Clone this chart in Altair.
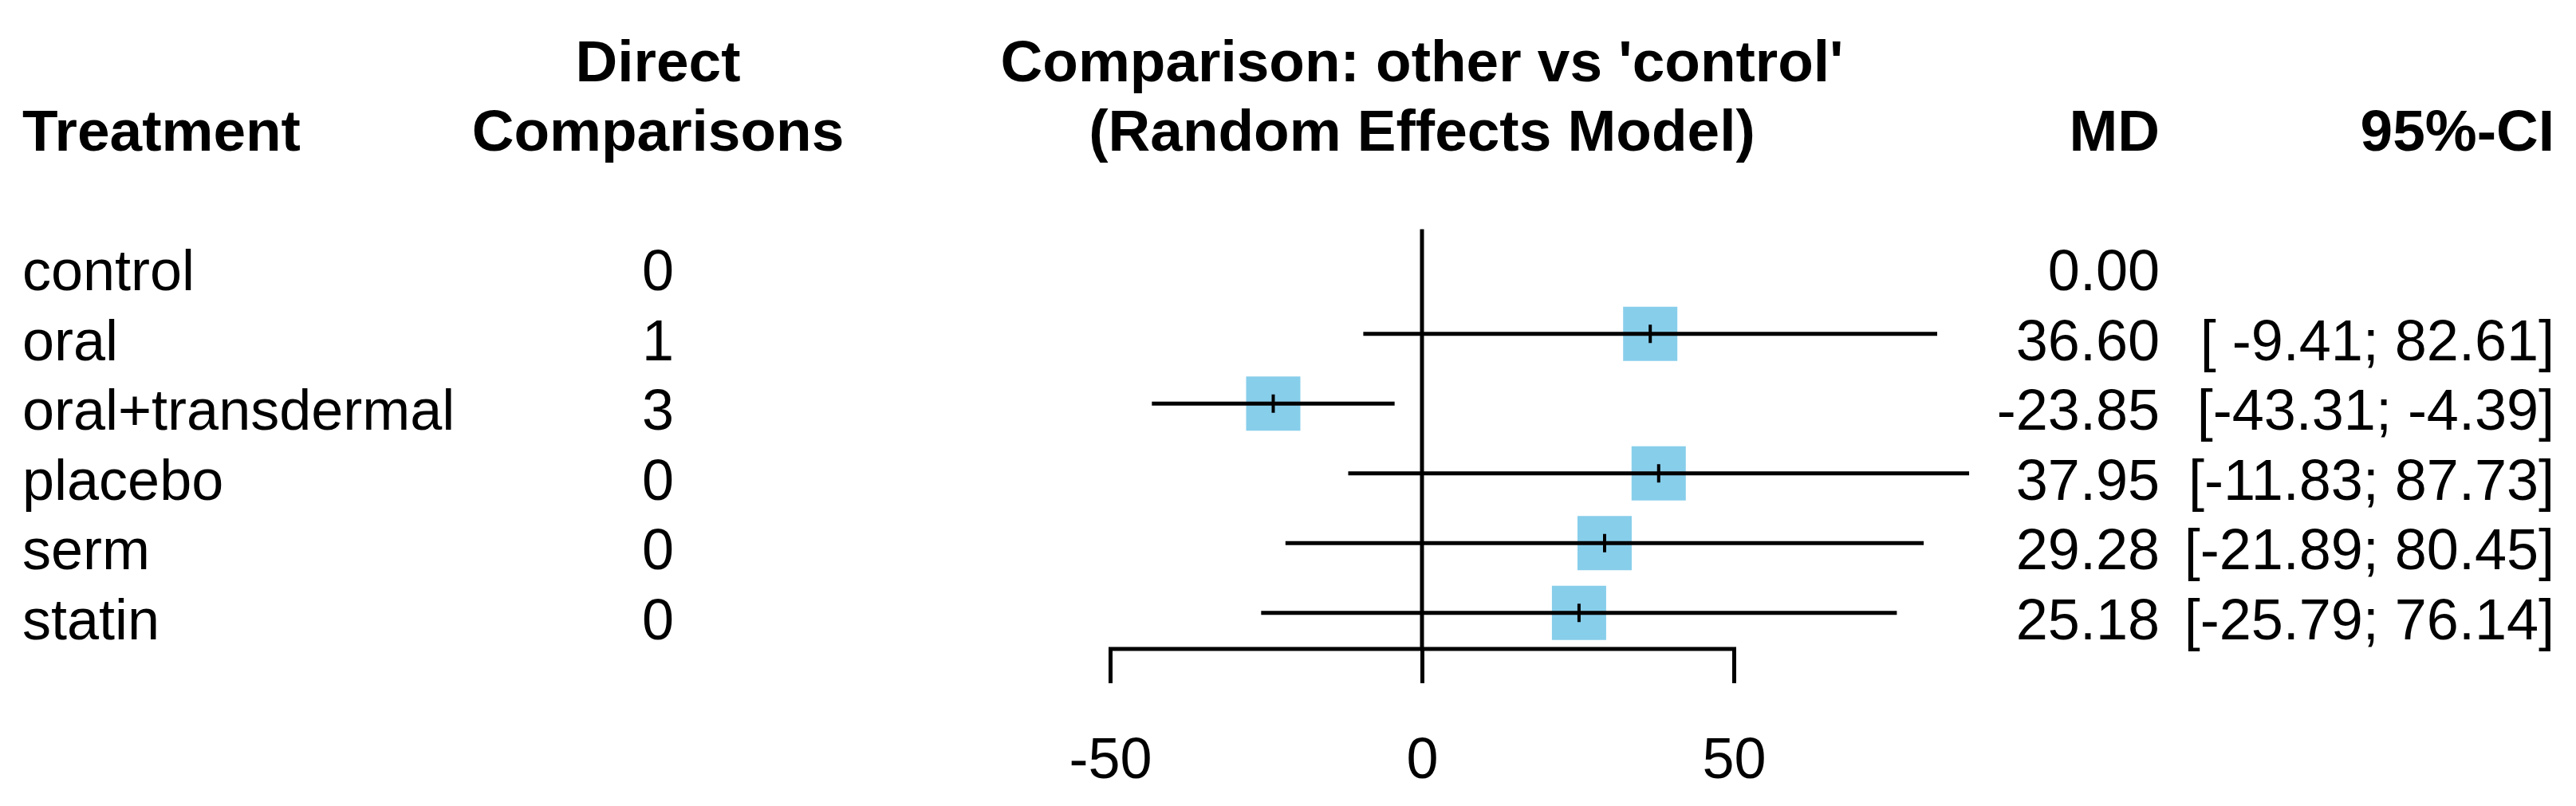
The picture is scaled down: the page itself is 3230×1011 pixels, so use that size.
import altair as alt
import pandas as pd

# ---- data ----
treatments = ["control", "oral", "oral+transdermal", "placebo", "serm", "statin"]
direct_comparisons = [0, 1, 3, 0, 0, 0]
md = [0.00, 36.60, -23.85, 37.95, 29.28, 25.18]
ci_lower = [None, -9.41, -43.31, -11.83, -21.89, -25.79]
ci_upper = [None, 82.61, -4.39, 87.73, 80.45, 76.14]

header_line1 = ["", "Direct", "Comparison: other vs 'control'", "", ""]
header_line2 = ["Treatment", "Comparisons", "(Random Effects Model)", "MD", "95%-CI"]
header_cols = ["trt", "dc", "cmp", "md", "ci"]
x_ticks = [-50, 0, 50]
reference_value = 0

# ---- tables ----
def ci_text(lo, hi):
    if lo is None or hi is None:
        return ""
    return f"[{lo:6.2f}; {hi:5.2f}]"

body = pd.DataFrame({
    "row": list(range(len(treatments))),
    "treatment": treatments,
    "dc": [str(v) for v in direct_comparisons],
    "md": md,
    "lower": ci_lower,
    "upper": ci_upper,
    "md_txt": [f"{v:.2f}" for v in md],
    "ci_txt": [ci_text(a, b) for a, b in zip(ci_lower, ci_upper)],
})

hdr_rows = []
for c, t1, t2 in zip(header_cols, header_line1, header_line2):
    if t1:
        hdr_rows.append({"col": c, "row": -3, "text": t1, "x0": reference_value})
    if t2:
        hdr_rows.append({"col": c, "row": -2, "text": t2, "x0": reference_value})
header = pd.DataFrame(hdr_rows)

zero_df = pd.DataFrame({"x0": [reference_value], "y0": [-0.5], "y1": [len(treatments) - 0.5]})

# ---- scales / encodings ----
FONT = "Liberation Sans"
FS = 72
FS_H = 73
LW = 5
xscale = alt.Scale(domain=[-50, 50], nice=False, zero=False)
yscale = alt.Scale(domain=[-3.5, len(treatments) - 0.5], reverse=True, nice=False, zero=False)
xaxis = alt.Axis(
    values=x_ticks, title="", grid=False,
    domain=True, domainColor="black", domainWidth=LW, domainCap="square",
    ticks=True, tickColor="black", tickWidth=LW, tickSize=43,
    labelFont=FONT, labelFontSize=FS, labelColor="black", labelPadding=62,
    labelFlush=False, labelOverlap=False, labelExpr="toString(datum.value)",
    offset=1,
)

def X(field):
    return alt.X(field, scale=xscale, axis=xaxis, title="")

def Y(field):
    return alt.Y(field, scale=yscale, axis=None)

base_body = alt.Chart(body)
ci_body = base_body.transform_filter("isValid(datum.lower)")

zero_line = alt.Chart(zero_df).mark_rule(color="black", strokeWidth=LW).encode(
    x=X("x0:Q"), y=Y("y0:Q"), y2="y1:Q"
)

squares = ci_body.mark_square(size=68 * 68, color="#87CEEB", opacity=1, filled=True, strokeWidth=0).encode(
    x=X("md:Q"), y=Y("row:Q")
)

ci_lines = ci_body.mark_rule(color="black", strokeWidth=LW).encode(
    x=X("lower:Q"), x2="upper:Q", y=Y("row:Q")
)

est_ticks = ci_body.mark_tick(orient="vertical", size=23, thickness=4, color="black", opacity=1).encode(
    x=X("md:Q"), y=Y("row:Q")
)

def body_text(field, xpx, align):
    return base_body.mark_text(
        font=FONT, fontSize=FS, color="black", align=align, baseline="alphabetic", dy=33
    ).encode(x=alt.value(xpx), y=Y("row:Q"), text=f"{field}:N")

t_trt = body_text("treatment", -1364, "left")
t_dc = body_text("dc", -567, "center")
t_md = body_text("md_txt", 1316, "right")
t_ci = body_text("ci_txt", 1811, "right")

def head_text(col, xpx, align):
    return alt.Chart(header).transform_filter(f"datum.col == '{col}'").mark_text(
        font=FONT, fontSize=FS_H, fontWeight="bold", color="black", align=align,
        baseline="alphabetic", dy=33
    ).encode(x=alt.value(xpx), y=Y("row:Q"), text="text:N")

h_trt = head_text("trt", -1364, "left")
h_dc = head_text("dc", -567, "center")
h_md = head_text("md", 1316, "right")
h_ci = head_text("ci", 1811, "right")
h_cmp = alt.Chart(header).transform_filter("datum.col == 'cmp'").mark_text(
    font=FONT, fontSize=FS_H, fontWeight="bold", color="black", align="center",
    baseline="alphabetic", dy=33
).encode(x=X("x0:Q"), y=Y("row:Q"), text="text:N")

chart = alt.layer(
    zero_line, squares, ci_lines, est_ticks,
    t_trt, t_dc, t_md, t_ci,
    h_trt, h_dc, h_md, h_ci, h_cmp,
).properties(
    width=782, height=787.5,
    autosize=alt.AutoSizeParams(type="none"),
    padding={"left": 1384, "top": 17, "right": 1040, "bottom": 180},
    background="white",
).configure_view(strokeWidth=0)

chart.save("out.html", embed_options={"renderer": "svg", "actions": False})
